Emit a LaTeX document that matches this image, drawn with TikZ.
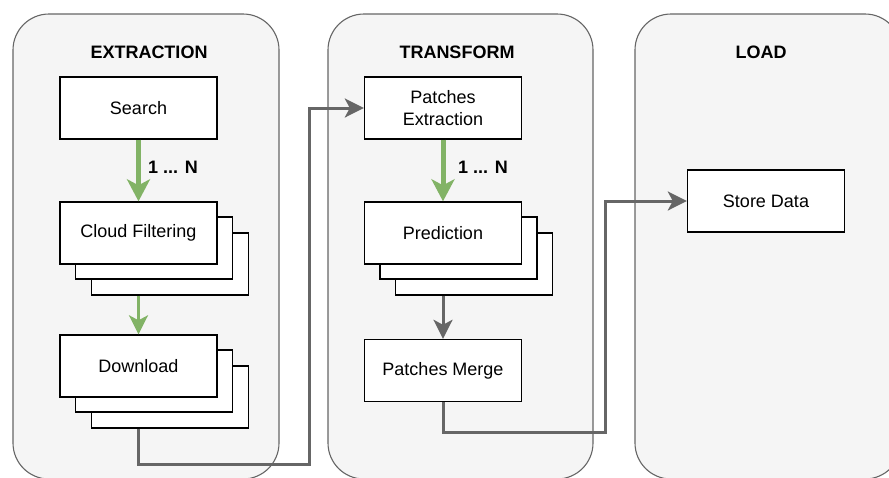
\documentclass[tikz,border=0pt]{standalone}
\usepackage{fontspec}
\setmainfont{Liberation Sans}
\usetikzlibrary{arrows.meta}
\definecolor{cfill}{HTML}{F5F5F5}
\definecolor{cgray}{HTML}{666666}
\definecolor{ggreen}{HTML}{82B366}
\begin{document}
\begin{tikzpicture}[x=1pt,y=-1pt,
  container/.style={draw=cgray, fill=cfill, line width=1.1pt, rounded corners=36pt},
  stepbox/.style={draw=black, fill=white, line width=1.4pt, minimum width=157pt, minimum height=62pt, inner sep=0pt, font=\fontsize{18}{22}\selectfont, align=center},
  titletext/.style={font=\bfseries\fontsize{18}{22}\selectfont},
  lbl/.style={font=\bfseries\fontsize{18}{22}\selectfont, anchor=west, inner sep=0pt},
  gthick/.style={draw=ggreen, line width=5pt, -{Stealth[length=22pt,width=23pt,inset=6pt]}},
  gthin/.style={draw=ggreen, line width=3pt, -{Stealth[length=19pt,width=19pt,inset=5pt]}},
  grayconn/.style={draw=cgray, line width=3pt, -{Stealth[length=19pt,width=19pt,inset=5pt]}},
]
\useasboundingbox (0,0) rectangle (889,477);
% containers
\draw[container] (13,14) rectangle (279,479);
\draw[container] (328,14) rectangle (593,479);
\draw[container] (635,14) rectangle (901,479);
\node[titletext] (t1) at (149,52) {EXTRACTION};
\node[titletext] (t2) at (457,52) {TRANSFORM};
\node[titletext] (t3) at (761,52) {LOAD};
% extraction
\node[stepbox] (search) at (138.5,108) {Search};
\node[stepbox] (cf3) at (170,264) {};
\node[stepbox] (cf2) at (154,248) {};
\node[stepbox] (cf1) at (138.5,233) {Cloud Filtering};
\node[stepbox] (dl3) at (170,397) {};
\node[stepbox] (dl2) at (154,381) {};
\node[stepbox] (dl1) at (138.5,366) {Download};
% transform
\node[stepbox] (pe) at (443,108) {Patches\\Extraction};
\node[stepbox] (pr3) at (474,264) {};
\node[stepbox] (pr2) at (458.5,248) {};
\node[stepbox] (pr1) at (443,233) {Prediction};
\node[stepbox] (pm) at (443,370.5) {Patches Merge};
% load
\node[stepbox] (sd) at (766,201) {Store Data};
% labels
\node[lbl] (n1) at (148,167) {1 ... N};
\node[lbl] (n2) at (458,167) {1 ... N};
% arrows
\draw[gthick] (search.south) -- (cf1.north);
\draw[gthin] (cf1.south |- cf3.south) -- (dl1.north);
\draw[gthick] (pe.south) -- (pr1.north);
\draw[grayconn] (pr1.south |- pr3.south) -- (pm.north);
\coordinate (j1) at (309,464);
\coordinate (j2) at (605,432);
\draw[grayconn] (dl1.south |- dl3.south) |- (j1) |- (pe.west);
\draw[grayconn] (pm.south) |- (j2) |- (sd.west);
\end{tikzpicture}
\end{document}
